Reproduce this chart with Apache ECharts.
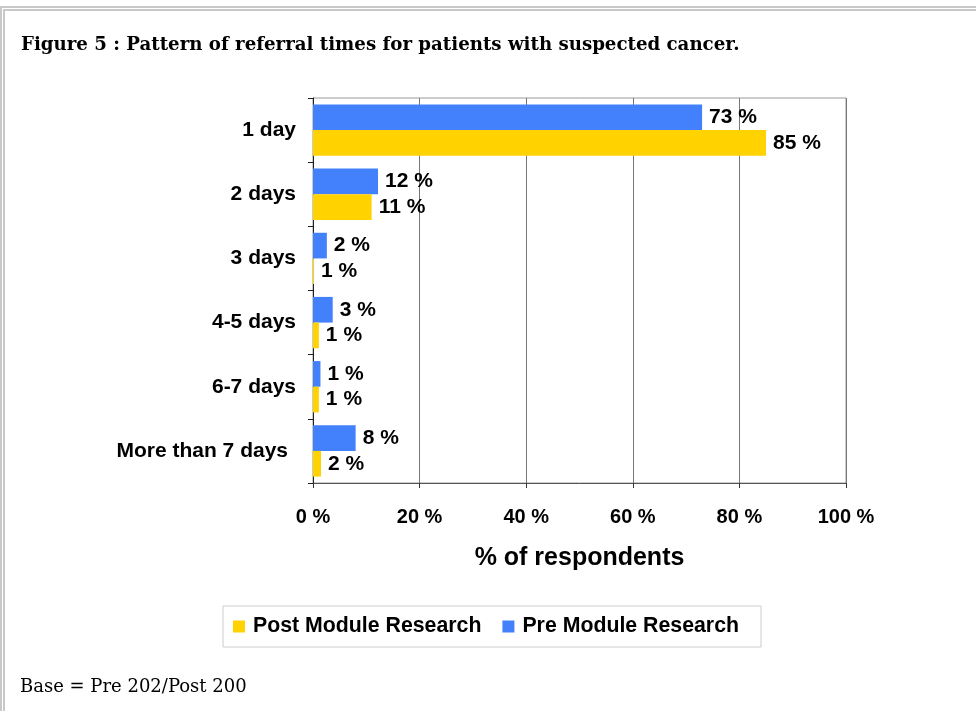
<!DOCTYPE html>
<html>
<head>
<meta charset="utf-8">
<script src="https://cdn.jsdelivr.net/npm/echarts@6/dist/echarts.min.js"></script>
<style>
  html, body { margin: 0; padding: 0; background: #fff; }
  #chart { width: 976px; height: 711px; }
</style>
</head>
<body>
<div id="chart"></div>
<script>
// categories, top to bottom
const categories = ['1 day', '2 days', '3 days', '4-5 days', '6-7 days', 'More than 7 days']
// bar lengths (%)
const preValues = [73, 12.2, 2.6, 3.7, 1.4, 8]
const postValues = [85, 11, 0.2, 1.1, 1.1, 1.5]
// printed labels (%)
const preLabels = [73, 12, 2, 3, 1, 8]
const postLabels = [85, 11, 1, 1, 1, 2]
const xTicks = [0, 20, 40, 60, 80, 100]

const BLUE = '#4281fb'
const YELLOW = '#ffd200'
const SANS = '"Liberation Sans", Arial, sans-serif'
const SERIF = '"DejaVu Serif", serif'

const chart = echarts.init(document.getElementById('chart'))

const labelStyle = (labels) => ({
  show: true,
  position: 'right',
  distance: 7,
  color: '#000',
  fontFamily: SANS,
  fontWeight: 'bold',
  fontSize: 21,
  formatter: (p) => labels[p.dataIndex] + ' %'
})

chart.setOption({
  backgroundColor: '#fff',
  animation: false,
  title: {
    text: 'Figure 5 : Pattern of referral times for patients with suspected cancer.',
    left: 16,
    top: 31,
    textStyle: { fontFamily: SERIF, fontWeight: 'bold', fontSize: 18.2, color: '#000' }
  },
  legend: {
    data: ['Post Module Research', 'Pre Module Research'],
    left: 223,
    top: 606,
    icon: 'rect',
    itemWidth: 12,
    itemHeight: 12,
    itemGap: 21,
    padding: [10, 22, 10, 10],
    borderColor: '#cccccc',
    borderWidth: 1,
    textStyle: { fontFamily: SANS, fontWeight: 'bold', fontSize: 21.3, color: '#000', padding: [0, 0, 0, 3] }
  },
  grid: {
    left: 313,
    right: 130,
    top: 98,
    bottom: 228,
    show: true,
    borderColor: '#999',
    borderWidth: 1
  },
  xAxis: {
    type: 'value',
    min: 0,
    max: 100,
    interval: 20,
    name: '% of respondents',
    nameLocation: 'middle',
    nameGap: 63,
    nameTextStyle: { fontFamily: SANS, fontWeight: 'bold', fontSize: 25, color: '#000' },
    axisLine: { show: true, lineStyle: { color: '#555', width: 1 } },
    axisTick: { show: true, length: 5, lineStyle: { color: '#333' } },
    axisLabel: {
      margin: 24,
      fontFamily: SANS, fontWeight: 'bold', fontSize: 20, color: '#000',
      formatter: (v) => (xTicks.includes(v) ? v + ' %' : '')
    },
    splitLine: { show: true, lineStyle: { color: '#777', width: 1 } }
  },
  yAxis: {
    type: 'category',
    data: categories,
    inverse: true,
    axisLine: { show: true, lineStyle: { color: '#222', width: 1 } },
    axisTick: { show: true, length: 5, lineStyle: { color: '#222' } },
    axisLabel: {
      margin: 17,
      fontFamily: SANS, fontWeight: 'bold', fontSize: 21, color: '#000',
      formatter: (v) => (v.length > 10 ? '{long|' + v + '}' : v),
      rich: {
        long: { fontFamily: SANS, fontWeight: 'bold', fontSize: 21, color: '#000', padding: [0, 8, 0, 0] }
      }
    }
  },
  series: [
    {
      name: 'Pre Module Research',
      type: 'bar',
      data: preValues,
      itemStyle: { color: BLUE },
      barGap: '0%',
      barCategoryGap: '20%',
      label: labelStyle(preLabels)
    },
    {
      name: 'Post Module Research',
      type: 'bar',
      data: postValues,
      itemStyle: { color: YELLOW },
      barGap: '0%',
      barCategoryGap: '20%',
      label: labelStyle(postLabels)
    }
  ],
  graphic: [
    // double frame along top and left edges
    { type: 'line', shape: { x1: 0, y1: 7, x2: 976, y2: 7 }, style: { stroke: '#c8c8c8', lineWidth: 2 } },
    { type: 'line', shape: { x1: 4, y1: 10, x2: 976, y2: 10 }, style: { stroke: '#c8c8c8', lineWidth: 2 } },
    { type: 'line', shape: { x1: 1, y1: 6, x2: 1, y2: 711 }, style: { stroke: '#c8c8c8', lineWidth: 2 } },
    { type: 'line', shape: { x1: 4, y1: 9, x2: 4, y2: 711 }, style: { stroke: '#c8c8c8', lineWidth: 2 } },
    {
      type: 'text',
      left: 20,
      top: 678,
      style: { text: 'Base = Pre 202/Post 200', font: '18px ' + SERIF, fill: '#000' }
    }
  ]
})
</script>
</body>
</html>
